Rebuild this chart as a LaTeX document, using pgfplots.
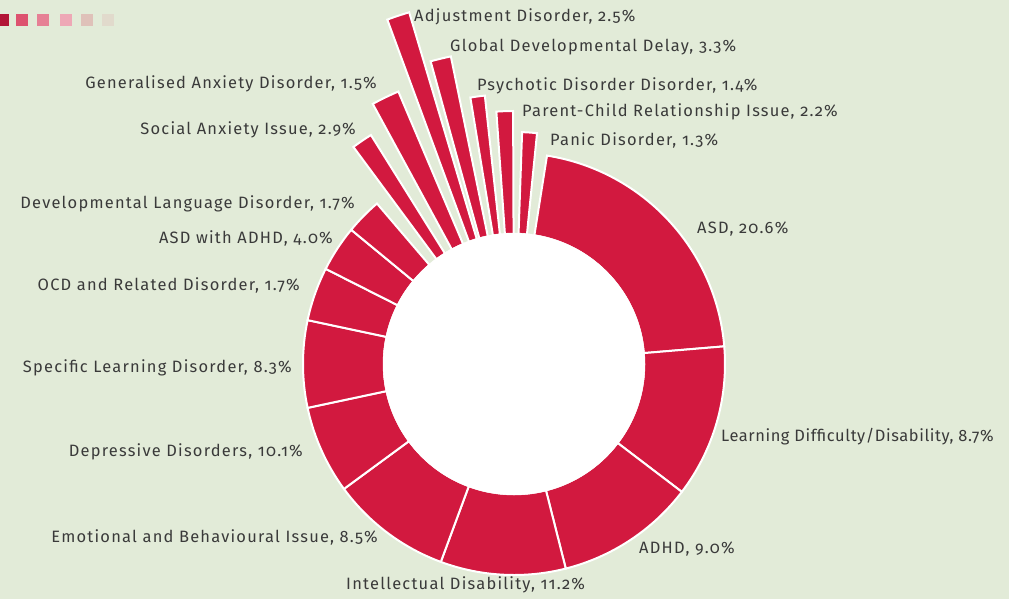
\documentclass[border=0pt]{standalone}
\usepackage{pgfplots}
\usepackage{pgfplotstable}
\pgfplotsset{compat=1.18}
\usepackage{fontspec}
\setmainfont{Fira Sans}[Numbers=OldStyle,LetterSpace=7.5]
\definecolor{bgc}{HTML}{E2EBD8}
\definecolor{redc}{HTML}{D2193F}
\definecolor{txt}{HTML}{3A3A3A}

% sectors: centre, start angle, end angle (degrees, ccw from east), inner and outer radius (px)
\pgfplotstableread{
cx cy sa ea rin rout
0 0 81.0 4.8 130 211
0 0 4.8 -37.3 130 211
0 0 -37.3 -75.8 130 211
0 0 -75.8 -110.3 130 211
0 0 -110.3 -143.7 130 211
0 0 216.3 192.0 130 211
0 0 192.0 168.0 130 211
0 0 168.0 153.2 130 211
0 0 153.2 140.5 130 211
0 0 140.5 130.5 130 211
0 0 126.5 122.0 130 270
0 0 118.5 113.0 130 296
0 0 110.2 106.6 130 367
0 0 105.4 101.6 130 314
0 0 99.3 96.2 130 270
0 0 94.0 90.2 130 253
0 0 88.0 84.3 130 232
}\sectors

\pgfplotstableread{
x y label
-100 347 {Adjustment Disorder, 2.5\%}
-64 317 {Global Developmental Delay, 3.3\%}
-37 278 {Psychotic Disorder Disorder, 1.4\%}
8 252 {Parent-Child Relationship Issue, 2.2\%}
36 224 {Panic Disorder, 1.3\%}
183 135 {ASD, 20.6\%}
207 -73 {{\addfontfeature{LetterSpace=3.5}Learning Difficulty/Disability, 8.7\%}}
125 -185 {ADHD, 9.0\%}
-168 -221 {Intellectual Disability, 11.2\%}
}\labelsright

\pgfplotstableread{
x y label
-137 280 {Generalised Anxiety Disorder, 1.5\%}
-158 234 {Social Anxiety Issue, 2.9\%}
-159 160 {Developmental Language Disorder, 1.7\%}
-181 126 {ASD with ADHD, 4.0\%}
-214 79 {OCD and Related Disorder, 1.7\%}
-222 -4 {Specific Learning Disorder, 8.3\%}
-211 -88 {Depressive Disorders, 10.1\%}
-136 -173 {Emotional and Behavioural Issue, 8.5\%}
}\labelsleft

\begin{document}
\begin{tikzpicture}
\begin{axis}[
  scale only axis, width=1009bp, height=599bp,
  xmin=-514, xmax=495, ymin=-235, ymax=364,
  axis line style={draw=none}, xtick=\empty, ytick=\empty,
  axis background/.style={fill=bgc},
  clip=false,
]
% decorative colour squares (top left)
\addplot[only marks, mark=square*, mark size=5.5bp, color=redc!85!black] coordinates {(-511,344)};
\addplot[only marks, mark=square*, mark size=5.5bp, color=redc!75!white] coordinates {(-492,344)};
\addplot[only marks, mark=square*, mark size=5.5bp, color=redc!55!white] coordinates {(-471,344)};
\addplot[only marks, mark=square*, mark size=5.5bp, color=redc!38!white] coordinates {(-448,344)};
\addplot[only marks, mark=square*, mark size=5.5bp, color=redc!20!bgc] coordinates {(-427,344)};
\addplot[only marks, mark=square*, mark size=5.5bp, color=redc!8!bgc] coordinates {(-406,344)};

% sectors, each drawn around the centre point (0,0)
\addplot[scatter, only marks, mark=*, mark size=0pt, color=redc,
  point meta=explicit,
  visualization depends on={\thisrow{sa}\as\mySA},
  visualization depends on={\thisrow{ea}\as\myEA},
  visualization depends on={\thisrow{rin}\as\myRin},
  visualization depends on={\thisrow{rout}\as\myRout},
  scatter/@pre marker code/.code={%
    \fill[redc, draw=white, line width=2bp, line join=miter]
      (\mySA:\myRin bp) -- (\mySA:\myRout bp)
      arc[start angle=\mySA, end angle=\myEA, radius=\myRout bp]
      -- (\myEA:\myRin bp)
      arc[start angle=\myEA, end angle=\mySA, radius=\myRin bp] -- cycle;
  },
  scatter/@post marker code/.code={},
] table[x=cx, y=cy, meta=rin] {\sectors};

% white hole
\addplot[only marks, mark=*, mark size=131bp, color=white] coordinates {(0,0)};

% labels
\addplot[only marks, mark=none,
  point meta=explicit symbolic,
  nodes near coords,
  nodes near coords style={anchor=west, inner sep=0pt, text=txt, font=\fontsize{16.5}{18}\selectfont},
] table[x=x, y=y, meta=label] {\labelsright};
\addplot[only marks, mark=none,
  point meta=explicit symbolic,
  nodes near coords,
  nodes near coords style={anchor=east, inner sep=0pt, text=txt, font=\fontsize{16.5}{18}\selectfont},
] table[x=x, y=y, meta=label] {\labelsleft};
\end{axis}
\pgfresetboundingbox
\useasboundingbox (current axis.south west) rectangle (current axis.north east);
\end{tikzpicture}
\end{document}
